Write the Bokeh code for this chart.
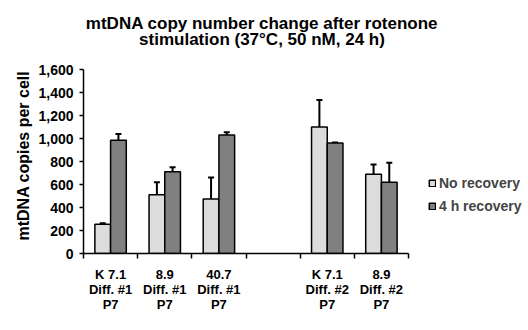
from bokeh.plotting import figure
from bokeh.models import (ColumnDataSource, FixedTicker, NumeralTickFormatter, Whisker,
                          TeeHead, Legend, LegendItem, Label, Range1d, Title)
from bokeh.embed import file_html
from bokeh.resources import INLINE

# ---- data ----
categories = ["K 7.1\nDiff. #1\nP7", "8.9\nDiff. #1\nP7", "40.7\nDiff. #1\nP7", "",
              "K 7.1\nDiff. #2\nP7", "8.9\nDiff. #2\nP7"]
no_recovery = [255, 510, 475, None, 1100, 690]
no_recovery_err = [8, 110, 185, None, 235, 85]
h4_recovery = [985, 710, 1030, None, 960, 620]
h4_recovery_err = [55, 40, 25, None, 5, 170]
y_ticks = [0, 200, 400, 600, 800, 1000, 1200, 1400, 1600]
title_lines = ["mtDNA copy number change after rotenone", "stimulation (37°C, 50 nM, 24 h)"]
y_label = "mtDNA copies per cell"

FONT = "Liberation Sans"
LIGHT = "#dcdcdc"
DARK = "#808080"

# frame geometry (frame extends to top and right so title/legend can live inside it)
W, H = 528, 330
LEFT, BOTTOM = 83, 77
AX_RIGHT_PX, AX_TOP_PX = 408, 69
n = len(categories)
ymax_axis = y_ticks[-1]
frame_w = W - LEFT
frame_h = H - BOTTOM
x_end = n * frame_w / (AX_RIGHT_PX - LEFT)
y_end = ymax_axis * frame_h / (H - BOTTOM - AX_TOP_PX)

idx = [i for i, v in enumerate(no_recovery) if v is not None]
centers = [i + 0.5 for i in idx]
off = 0.145
bw = 0.29

src_a = ColumnDataSource(dict(x=[c - off for c in centers],
                              top=[no_recovery[i] for i in idx],
                              upper=[no_recovery[i] + no_recovery_err[i] for i in idx]))
src_b = ColumnDataSource(dict(x=[c + off for c in centers],
                              top=[h4_recovery[i] for i in idx],
                              upper=[h4_recovery[i] + h4_recovery_err[i] for i in idx]))

p = figure(width=W, height=H, output_backend="svg", toolbar_location=None,
           x_range=Range1d(0, x_end), y_range=Range1d(0, y_end),
           min_border_left=LEFT, min_border_right=0, min_border_top=0, min_border_bottom=BOTTOM)
p.title = None

# title: two centred labels (screen px relative to frame bottom-left)
for txt, yy in zip(title_lines, [frame_h - 23, frame_h - 39]):
    p.add_layout(Label(x=178.5, y=yy, x_units="screen", y_units="screen", text=txt,
                       text_align="center", text_baseline="alphabetic", text_font=FONT,
                       text_font_size="17px", text_font_style="bold", text_color="black"))

for src in (src_a, src_b):
    w = Whisker(base="x", lower="top", upper="upper", source=src, dimension="height",
                line_width=2, line_color="black",
                upper_head=TeeHead(size=6, line_width=2, line_color="black"), lower_head=None)
    p.add_layout(w)

ra = p.vbar(x="x", top="top", width=bw, source=src_a, fill_color=LIGHT,
            line_color="black", line_width=1.5)
rb = p.vbar(x="x", top="top", width=bw, source=src_b, fill_color=DARK,
            line_color="black", line_width=1.5)

legend = Legend(items=[LegendItem(label="No recovery", renderers=[ra]),
                       LegendItem(label="4 h recovery", renderers=[rb])],
                location=(345, 39), padding=0, margin=0, spacing=7,
                glyph_width=8, glyph_height=8, label_standoff=3,
                label_text_font=FONT, label_text_font_size="14px",
                label_text_font_style="bold", border_line_color=None,
                background_fill_alpha=0)
p.add_layout(legend)

# x axis
xa = p.xaxis[0]
xa.bounds = (0, n)
xa.ticker = FixedTicker(ticks=[i + 0.5 for i in range(n)], minor_ticks=list(range(n + 1)))
xa.major_label_overrides = {i + 0.5: c for i, c in enumerate(categories)}
xa.major_tick_out = 0
xa.major_tick_in = 0
xa.minor_tick_out = 5
xa.minor_tick_in = 0
xa.minor_tick_line_color = "black"
xa.minor_tick_line_width = 1.5
xa.axis_line_width = 1.5
xa.major_label_standoff = 8
xa.major_label_text_font = FONT
xa.major_label_text_font_size = "13px"
xa.major_label_text_font_style = "bold"
xa.major_label_text_color = "black"
xa.major_label_text_line_height = 1.0

# y axis
ya = p.yaxis[0]
ya.bounds = (0, ymax_axis)
ya.ticker = FixedTicker(ticks=y_ticks)
ya.formatter = NumeralTickFormatter(format="0,0")
ya.major_tick_out = 4
ya.major_tick_in = 0
ya.minor_tick_out = 0
ya.minor_tick_in = 0
ya.axis_line_width = 1.5
ya.major_tick_line_width = 1.5
ya.major_label_standoff = 6
ya.major_label_text_font = FONT
ya.major_label_text_font_size = "14px"
ya.major_label_text_font_style = "bold"
ya.major_label_text_color = "black"

# y axis title as a side title so it can be positioned along the axis
p.add_layout(Title(text=y_label, align="left", offset=13, standoff=8, text_font=FONT,
                   text_font_size="16px", text_font_style="bold", text_color="black"), "left")

p.xgrid.visible = False
p.ygrid.visible = False
p.outline_line_color = None

open("out.html", "w").write(file_html(p, INLINE))
